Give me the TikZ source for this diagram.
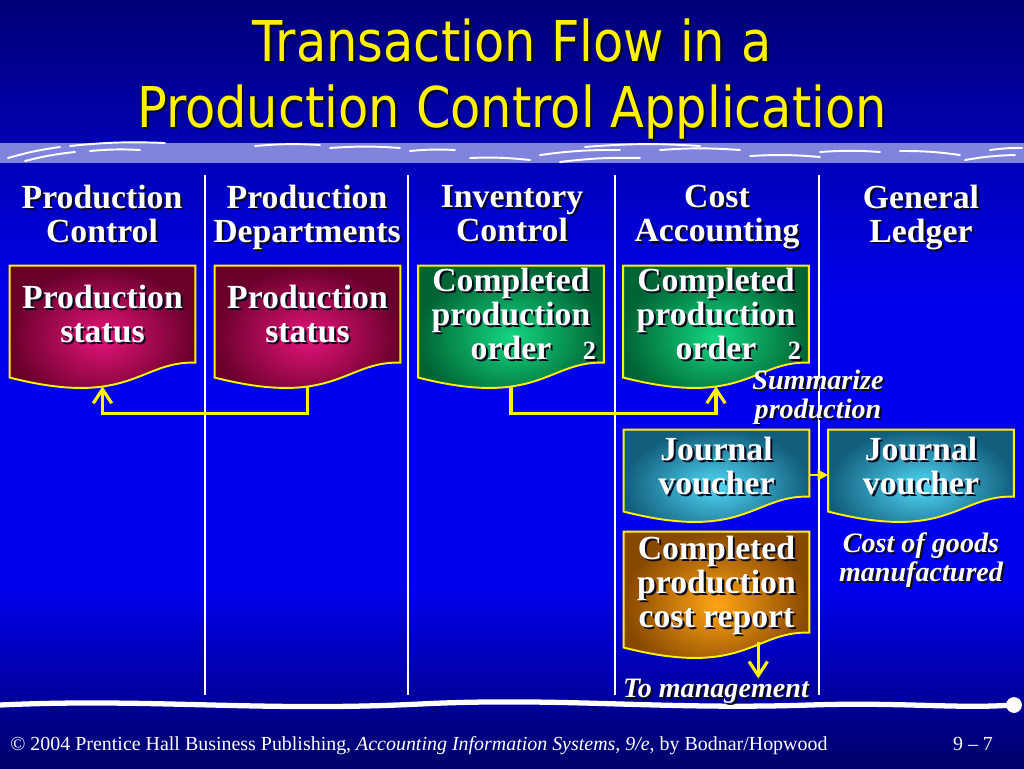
\documentclass[tikz,border=0pt]{standalone}
\usepackage{fontspec}
\setmainfont{Liberation Serif}
\newfontfamily\titlefont[FakeStretch=0.88]{DejaVu Sans}
\usetikzlibrary{calc,shapes,positioning}
\usetikzlibrary{arrows.meta}
\tikzset{>={Straight Barb[width=10.5pt,length=8pt]}}
\definecolor{navytop}{RGB}{0,0,120}
\definecolor{bluemid}{RGB}{0,0,240}
\definecolor{navybot}{RGB}{0,0,105}
\definecolor{band}{RGB}{128,132,220}
\definecolor{magin}{RGB}{228,20,122}
\definecolor{magout}{RGB}{105,0,42}
\definecolor{grnin}{RGB}{20,215,130}
\definecolor{grnout}{RGB}{0,100,52}
\definecolor{cyain}{RGB}{80,215,245}
\definecolor{cyaout}{RGB}{18,95,125}
\definecolor{orain}{RGB}{255,165,20}
\definecolor{oraout}{RGB}{135,72,0}
\definecolor{shadow}{RGB}{10,10,30}
\pgfdeclareverticalshading{slidebg}{100bp}{color(0bp)=(navybot); color(25bp)=(navybot); color(37bp)=(bluemid); color(55bp)=(bluemid); color(75bp)=(navytop); color(100bp)=(navytop)}
\pgfdeclarelayer{bg}
\pgfdeclarelayer{docs}
\pgfsetlayers{bg,docs,main}
\newcommand\sh[1]{\leavevmode\rlap{\kern1.2pt\raisebox{-1.2pt}{\color{shadow}#1}}#1}
\newcommand\docshape[2]{%
  \shadedraw[draw=yellow, line width=1.1pt, inner color=#2in, outer color=#2out]
    let \p1=(#1.north west), \p2=(#1.south east), \n1={\x2-\x1} in
    (\x1,\y1) -- (\x2,\y1) -- (\x2,\y2+13.5pt)
    .. controls (\x1+0.7*\n1,\y2+14.5pt) and (\x1+0.65*\n1,\y2-12.5pt) .. (\x1,\y2+5pt) -- cycle;}

\begin{document}
\begin{tikzpicture}[x=0.02cm,y=-0.02cm]
  \tikzstyle{dnode} = [inner sep=0pt, minimum width=3.7cm, minimum height=2.4cm, align=center, text=white, text depth=14pt, font=\bfseries\fontsize{19.2}{19.5}\selectfont]
  \tikzstyle{hnode} = [align=center, text=white, text depth=5pt, font=\bfseries\fontsize{19.2}{19.5}\selectfont]
  \tikzstyle{lnode} = [align=center, text=white, inner sep=0pt, font=\bfseries\itshape\fontsize{16}{16.3}\selectfont]
  \tikzstyle{yline} = [draw=yellow, line width=1.8pt]
  \tikzstyle{vline} = [draw=white, line width=1.6pt]
  \tikzstyle{streak} = [draw=white, line width=1.1pt, line cap=round]
  \useasboundingbox (0,0) rectangle (1024,768);

  \begin{pgfonlayer}{bg}
    \shade[shading=slidebg] (0,0) rectangle (1024,768);
    \fill[band] (0,143) rectangle (1024,163);
    \foreach \a/\b/\c/\d in {8/158/60/147, 25/161/75/152, 70/146/165/143, 90/151/140/150, 255/146/320/145,
        330/148/400/148, 410/151/455/150, 470/158/530/160, 540/155/620/150, 560/162/640/158, 585/147/700/146,
        660/150/740/150, 750/156/820/157, 820/152/880/152, 900/151/960/155, 965/160/1015/155, 990/150/1022/148}
      \draw[streak] (\a,\b) to[bend left=4] (\c,\d);
    \draw[white, line width=3pt, line cap=round] (0,705) .. controls (150,698) and (260,712) .. (420,704)
      .. controls (560,697) and (660,710) .. (810,705) .. controls (900,702) and (960,709) .. (1012,705);
    \fill[white] (1014,705) circle[radius=4.5pt];
  \end{pgfonlayer}

  \node[align=center, text=yellow, font=\titlefont\fontsize{32}{37.6}\selectfont] (title) at (512,80)
    {\sh{Transaction Flow in a}\\\sh{Production Control Application}};

  \node[hnode] (hpc) at (102,218) {\sh{Production}\\\sh{Control}};
  \node[hnode] (hpd) at (307,218) {\sh{Production}\\\sh{Departments}};
  \node[hnode] (hic) at (512,218) {\sh{Inventory}\\\sh{Control}};
  \node[hnode] (hca) at (717,218) {\sh{Cost}\\\sh{Accounting}};
  \node[hnode] (hgl) at (921,218) {\sh{General}\\\sh{Ledger}};

  \foreach \x in {205,408,615,819}
    \draw[vline] (\x,175) -- (\x,695);

  \node[dnode] (ps1) at (102.5,326) {\sh{Production}\\\sh{status}};
  \node[dnode] (ps2) at (307.5,326) {\sh{Production}\\\sh{status}};
  \node[dnode] (cpo1) at (511,326) {\sh{Completed}\\\sh{production}\\\sh{order}\rlap{\hspace{18pt}\fontsize{15}{15}\selectfont\sh{2}}};
  \node[dnode] (cpo2) at (716,326) {\sh{Completed}\\\sh{production}\\\sh{order}\rlap{\hspace{18pt}\fontsize{15}{15}\selectfont\sh{2}}};
  \node[dnode, minimum height=1.8cm, text depth=10.6pt] (jv1) at (716.5,475) {\sh{Journal}\\\sh{voucher}};
  \node[dnode, minimum height=1.8cm, text depth=10.6pt] (jv2) at (921,475) {\sh{Journal}\\\sh{voucher}};
  \node[dnode, minimum height=2.48cm] (cr) at (716.5,594) {\sh{Completed}\\\sh{production}\\\sh{cost report}};

  \node[lnode] (summ) at (818,398) {\sh{Summarize}\\\sh{production}};
  \node[lnode, font=\bfseries\itshape\fontsize{16}{16.5}\selectfont] (cogm) at (921,561) {\sh{Cost of goods}\\\sh{manufactured}};
  \node[lnode] (tomgmt) at (716,692) {\sh{To management}};

  \begin{pgfonlayer}{docs}
    \foreach \nm/\cl in {ps1/mag, ps2/mag, cpo1/grn, cpo2/grn, jv1/cya, jv2/cya, cr/ora}
      \docshape{\nm}{\cl};
  \end{pgfonlayer}

  \draw[yline, ->] (ps2.south) -- ++(0,27) -| (ps1.south);
  \draw[yline, ->] (cpo1.south) -- ++(0,27) -| (cpo2.south);
  \draw[yline, line width=1.1pt, -{Triangle[length=6pt,width=6pt]}] (jv1.east) -- (jv2.west);
  \draw[yline, ->] ([yshift=8pt]$(cr.south)!0.45!(cr.south east)$) coordinate (crout) -- (crout |- tomgmt.north);

  \node[anchor=base west, text=white, inner sep=0pt, font=\fontsize{11.35}{13}\selectfont] (foot) at (10,750)
    {\copyright{} 2004 Prentice Hall Business Publishing, \textit{Accounting Information Systems, 9/e}, by Bodnar/Hopwood};
  \node[anchor=base, text=white, inner sep=0pt, font=\fontsize{11.35}{13}\selectfont] (pagenum) at (973,750) {9 -- 7};
\end{tikzpicture}
\end{document}
